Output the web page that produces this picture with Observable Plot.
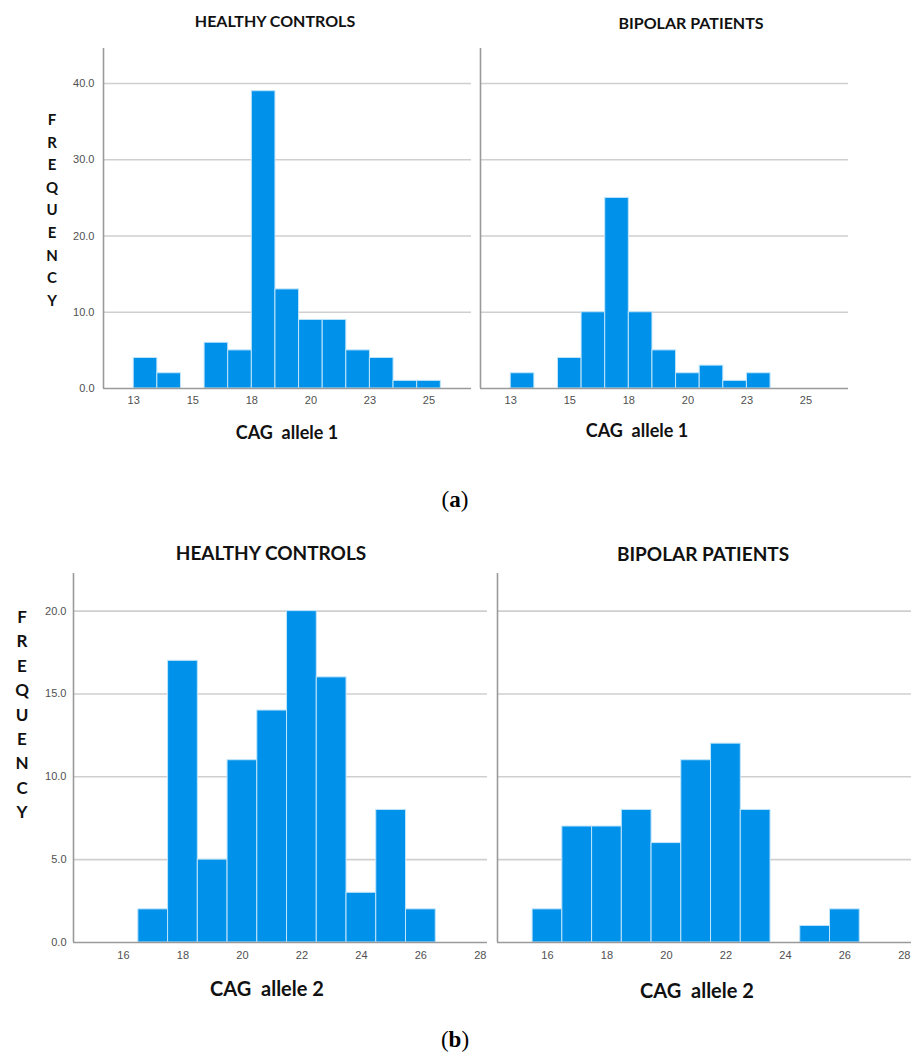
<!DOCTYPE html>
<html>
<head>
<meta charset="utf-8">
<script src="https://cdn.jsdelivr.net/npm/d3@7"></script>
<script src="https://cdn.jsdelivr.net/npm/@observablehq/plot@0.6"></script>
<style>
  html, body { margin: 0; padding: 0; background: #fff; }
  #root { position: relative; width: 911px; height: 1054px; overflow: hidden; background: #fff; }
  .t { position: absolute; transform: translate(-50%, -50%); white-space: pre; color: #111; font-family: Lato, "Open Sans", sans-serif; font-weight: 700; line-height: 1; }
  .plot { position: absolute; }
  .cap { position: absolute; transform: translate(-50%, -50%); font-family: "Liberation Serif", "DejaVu Serif", serif; font-size: 23px; color: #000; }
</style>
</head>
<body>
<div id="root"></div>
<script>
// ---------- data ----------
const allelesA = [13, 14, 15, 16, 17, 18, 19, 20, 21, 22, 23, 24, 25];
const controlsA = [4, 2, 0, 6, 5, 39, 13, 9, 9, 5, 4, 1, 1];
const bipolarA  = [2, 0, 4, 10, 25, 10, 5, 2, 3, 1, 2, 0, 0];

const allelesB = [16, 17, 18, 19, 20, 21, 22, 23, 24, 25, 26];
const controlsB = [0, 2, 17, 5, 11, 14, 20, 16, 3, 8, 2];
const bipolarB  = [2, 7, 7, 8, 6, 11, 12, 8, 0, 1, 2];

const xTicksA = [12.5, 15, 17.5, 20, 22.5, 25];
const xTickLabelsA = ["13", "15", "18", "20", "23", "25"];
const xTicksB = [16, 18, 20, 22, 24, 26, 28];
const xTickLabelsB = ["16", "18", "20", "22", "24", "26", "28"];
const yTicksA = [0, 10, 20, 30, 40];
const yTicksB = [0, 5, 10, 15, 20];

const panelTitles = ["HEALTHY CONTROLS", "BIPOLAR PATIENTS"];
const xTitleA = "CAG  allele 1";
const xTitleB = "CAG  allele 2";
const yTitle = "FREQUENCY";

// ---------- layout ----------
const root = document.getElementById("root");
const BAR = "#0091EA";

function panel(o) {
  const mL = 45, mT = 2, mR = 2, mB = 30;
  const rows = o.alleles.map((a, i) => ({a, n: o.counts[i]})).filter(d => d.n > 0);
  const tickLabel = new Map(o.xTicks.map((t, i) => [t, o.xLabels[i]]));
  const chart = Plot.plot({
    width: o.w + mL + mR,
    height: o.h + mT + mB,
    marginLeft: mL, marginTop: mT, marginRight: mR, marginBottom: mB,
    style: {fontFamily: '"Liberation Sans", Arial, sans-serif', fontSize: "11px", color: "#505050", background: "transparent", overflow: "visible"},
    x: {domain: o.xDomain, ticks: o.xTicks, tickFormat: d => tickLabel.get(d), tickSize: 0, tickPadding: o.xPad, label: null},
    y: {domain: o.yDomain, ticks: o.yTicks, tickFormat: o.showY ? d3.format(".1f") : () => "", tickSize: 0, tickPadding: o.yPad, label: null},
    marks: [
      Plot.ruleY(o.yTicks.filter(d => d > 0), {stroke: "#cfcfcf", strokeWidth: 1.6}),
      Plot.rect(rows, {x1: d => d.a - 0.5, x2: d => d.a + 0.5, y1: 0, y2: "n", fill: BAR, stroke: "#bfe5fb", strokeWidth: 1}),
      Plot.ruleX([o.xDomain[0]], {stroke: "#9a9a9a", strokeWidth: 1.6}),
      Plot.ruleY([0], {stroke: "#9a9a9a", strokeWidth: 1.6})
    ]
  });
  chart.classList.add("plot");
  chart.style.left = (o.left - mL) + "px";
  chart.style.top = (o.top - mT) + "px";
  root.appendChild(chart);
}

function text(s, x, y, size, cls = "t") {
  const d = document.createElement("div");
  d.className = cls;
  d.style.left = x + "px";
  d.style.top = y + "px";
  d.style.fontSize = size + "px";
  d.textContent = s;
  root.appendChild(d);
  return d;
}

// (a)
const xDomA = [11.22, 26.8], yDomA = [0, 44.6];
panel({alleles: allelesA, counts: controlsA, xDomain: xDomA, yDomain: yDomA, left: 103, top: 48, w: 368, h: 340,
  xTicks: xTicksA, xLabels: xTickLabelsA, yTicks: yTicksA, showY: true, xPad: 8, yPad: 9});
panel({alleles: allelesA, counts: bipolarA, xDomain: xDomA, yDomain: yDomA, left: 480, top: 48, w: 368, h: 340,
  xTicks: xTicksA, xLabels: xTickLabelsA, yTicks: yTicksA, showY: false, xPad: 8, yPad: 9});

// (b)
const xDomB = [14.32, 28.24], yDomB = [0, 22.27];
panel({alleles: allelesB, counts: controlsB, xDomain: xDomB, yDomain: yDomB, left: 73, top: 573, w: 414, h: 369,
  xTicks: xTicksB, xLabels: xTickLabelsB, yTicks: yTicksB, showY: true, xPad: 9, yPad: 7});
panel({alleles: allelesB, counts: bipolarB, xDomain: xDomB, yDomain: yDomB, left: 497, top: 573, w: 414, h: 369,
  xTicks: xTicksB, xLabels: xTickLabelsB, yTicks: yTicksB, showY: false, xPad: 9, yPad: 7});

// titles
text(panelTitles[0], 275, 21, 16);
text(panelTitles[1], 691, 23, 16);
text(panelTitles[0], 271, 552, 19);
text(panelTitles[1], 703, 553, 19);

// x titles
text(xTitleA, 287, 432, 18);
text(xTitleA, 637, 430, 18);
text(xTitleB, 267, 988, 20);
text(xTitleB, 697, 990, 20);

// vertical FREQUENCY
[...yTitle].forEach((c, i) => text(c, 52, 119 + i * 22.6, 15));
[...yTitle].forEach((c, i) => text(c, 22, 616 + i * 24.4, 17));

// captions
const ca = document.createElement("div");
ca.className = "cap"; ca.style.left = "455px"; ca.style.top = "500px";
ca.innerHTML = "(<b>a</b>)";
root.appendChild(ca);
const cb = document.createElement("div");
cb.className = "cap"; cb.style.left = "455px"; cb.style.top = "1040px";
cb.innerHTML = "(<b>b</b>)";
root.appendChild(cb);
</script>
</body>
</html>
